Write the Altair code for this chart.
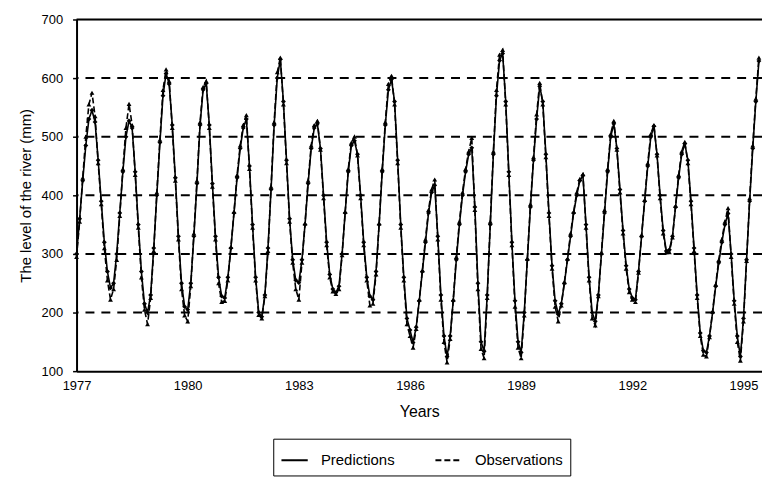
import altair as alt
import pandas as pd

# Monthly river level, Jan 1977 .. Jun 1995 (mm)
predictions = [
    300, 360, 425, 485, 530, 545, 525, 460, 390, 320, 270, 242,   # 1977
    250, 300, 370, 440, 500, 527, 515, 440, 350, 270, 215, 200,   # 1978
    230, 310, 400, 490, 570, 608, 590, 520, 430, 330, 250, 210,   # 1979
    205, 250, 330, 420, 520, 580, 591, 520, 420, 330, 260, 228,   # 1980
    225, 260, 310, 370, 430, 480, 515, 530, 450, 350, 260, 200,   # 1981
    193, 230, 310, 410, 520, 600, 632, 560, 460, 360, 290, 255,   # 1982
    251, 290, 350, 420, 480, 515, 522, 480, 400, 320, 265, 240,   # 1983
    234, 245, 300, 370, 440, 485, 493, 470, 400, 320, 260, 228,   # 1984
    222, 270, 350, 440, 520, 580, 598, 560, 460, 350, 260, 190,   # 1985
    170, 149, 175, 220, 270, 320, 370, 405, 417, 330, 230, 160,   # 1986
    125, 160, 220, 290, 350, 400, 440, 470, 481, 380, 250, 150,   # 1987
    134, 230, 350, 470, 570, 630, 642, 560, 440, 320, 220, 150,   # 1988
    132, 200, 290, 380, 460, 530, 586, 560, 470, 370, 280, 220,   # 1989
    197, 215, 250, 290, 330, 370, 400, 425, 434, 350, 260, 200,   # 1990
    185, 230, 300, 370, 440, 500, 522, 480, 410, 340, 280, 240,   # 1991
    225, 222, 270, 330, 390, 450, 500, 518, 470, 400, 340, 305,   # 1992
    307, 330, 380, 430, 470, 488, 460, 390, 310, 230, 165, 135,   # 1993
    132, 160, 200, 245, 285, 320, 350, 369, 300, 220, 160, 125,   # 1994
    190, 290, 390, 480, 560, 629,                                 # 1995
]
observations = [
    295, 355, 430, 500, 555, 575, 535, 455, 385, 310, 255, 222,   # 1977
    240, 290, 365, 445, 515, 556, 520, 435, 345, 260, 205, 180,   # 1978
    225, 305, 405, 495, 580, 615, 595, 515, 425, 325, 240, 195,   # 1979
    185, 245, 335, 425, 525, 585, 595, 515, 415, 325, 250, 218,   # 1980
    220, 255, 312, 372, 435, 485, 520, 537, 445, 345, 255, 196,   # 1981
    190, 228, 305, 415, 525, 610, 635, 555, 455, 355, 285, 240,   # 1982
    222, 285, 352, 425, 485, 520, 527, 478, 395, 315, 260, 236,   # 1983
    232, 240, 298, 372, 445, 490, 500, 468, 395, 315, 255, 212,   # 1984
    215, 265, 352, 445, 525, 590, 604, 555, 455, 345, 255, 180,   # 1985
    160, 140, 172, 222, 272, 325, 375, 410, 427, 325, 222, 150,   # 1986
    115, 155, 222, 295, 355, 405, 445, 475, 498, 375, 240, 138,   # 1987
    122, 225, 355, 475, 580, 640, 648, 555, 435, 315, 210, 140,   # 1988
    122, 195, 292, 385, 465, 538, 592, 555, 465, 365, 275, 210,   # 1989
    185, 212, 252, 292, 335, 372, 405, 428, 436, 345, 255, 190,   # 1990
    178, 228, 302, 375, 445, 505, 527, 478, 405, 335, 275, 235,   # 1991
    222, 218, 268, 332, 392, 455, 505, 520, 468, 395, 335, 303,   # 1992
    303, 328, 382, 435, 475, 491, 455, 385, 305, 225, 160, 128,   # 1993
    125, 158, 202, 248, 290, 325, 355, 378, 295, 215, 150, 118,   # 1994
    185, 288, 395, 485, 565, 635,                                 # 1995
]
start_year = 1977
series_names = ["Predictions", "Observations"]
x_ticks = [1977, 1980, 1983, 1986, 1989, 1992, 1995]
y_ticks = [100, 150, 200, 250, 300, 350, 400, 450, 500, 550, 600, 650, 700]
grid_levels = [200, 300, 400, 500, 600]
top_level = [700]

rows = []
for i, v in enumerate(predictions):
    rows.append({"t": start_year + i / 12, "level": v, "series": series_names[0]})
for i, v in enumerate(observations):
    rows.append({"t": start_year + i / 12, "level": v, "series": series_names[1]})
df = pd.DataFrame(rows)

FONT = "Liberation Sans"

x_enc = alt.X(
    "t:Q",
    scale=alt.Scale(domain=[1977, 1995.5], nice=False, zero=False),
    axis=alt.Axis(
        values=x_ticks, format="d", title="Years", grid=False, ticks=False,
        domainColor="black", domainWidth=2, labelFontSize=13, labelColor="black",
        labelPadding=8, titleFontSize=16, titleFontWeight="normal",
        titleColor="black", titlePadding=12, labelFont=FONT, titleFont=FONT,
        labelFlush=False,
    ),
)
y_enc = alt.Y(
    "level:Q",
    scale=alt.Scale(domain=[100, 700], nice=False, zero=False),
    axis=alt.Axis(
        values=y_ticks, labelExpr="datum.value % 100 == 0 ? datum.label : ''",
        title="The level of the river (mm)", grid=False, tickSize=4,
        tickColor="black", tickWidth=1.5, domainColor="black", domainWidth=2,
        labelFontSize=13, labelColor="black", labelPadding=10,
        titleFontSize=15, titleFontWeight="normal", titleColor="black",
        titlePadding=8, labelFont=FONT, titleFont=FONT,
    ),
)

dash_scale = alt.Scale(domain=series_names, range=[[1, 0], [6, 3]])

lines = alt.Chart(df).mark_line(color="black", strokeWidth=1.6).encode(
    x=x_enc,
    y=y_enc,
    strokeDash=alt.StrokeDash(
        "series:N", scale=dash_scale,
        legend=alt.Legend(
            title=None, orient="none", legendX=198, legendY=422,
            direction="horizontal", strokeColor="black", padding=7,
            labelFontSize=15, labelFont=FONT, labelColor="black",
            labelOffset=12, symbolType="stroke", symbolStrokeColor="black",
            symbolStrokeWidth=2, symbolSize=700, columnPadding=36,
        ),
    ),
    detail="series:N",
)
pred_points = alt.Chart(df).transform_filter(
    alt.datum.series == series_names[0]
).mark_point(filled=True, color="black", size=24, opacity=1, shape="diamond").encode(
    x="t:Q", y="level:Q",
)
obs_points = alt.Chart(df).transform_filter(
    alt.datum.series == series_names[1]
).mark_point(filled=True, color="black", size=24, opacity=1, shape="triangle-up").encode(
    x="t:Q", y="level:Q",
)

grid = alt.Chart(pd.DataFrame({"level": grid_levels})).mark_rule(
    color="black", strokeWidth=2, strokeDash=[9, 7]
).encode(y="level:Q")
top = alt.Chart(pd.DataFrame({"level": top_level})).mark_rule(
    color="black", strokeWidth=2
).encode(y="level:Q")

chart = alt.layer(grid, top, lines, pred_points, obs_points).properties(
    width=690, height=354,
    padding={"left": 69, "top": 10, "right": 0, "bottom": 106},
    autosize=alt.AutoSizeParams(type="none"),
).configure_view(stroke=None).configure(background="white")

chart.save("out.html", embed_options={"renderer": "svg", "actions": False})
